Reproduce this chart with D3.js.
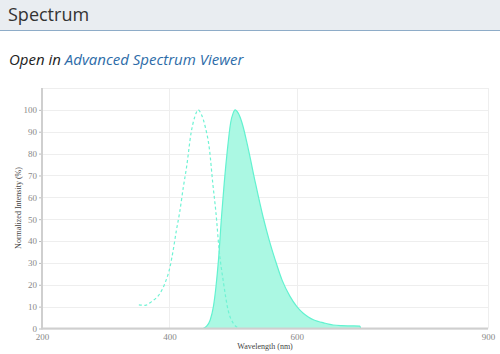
<!DOCTYPE html>
<html>
<head>
<meta charset="utf-8">
<script src="https://cdn.jsdelivr.net/npm/d3@7"></script>
<style>
  body { margin: 0; background: #fff; }
  svg { display: block; }
</style>
</head>
<body>
<div id="chart"></div>
<script>
// excitation (dashed) and emission (filled) spectra
const exWave = [352, 362, 372, 385, 393, 401, 406, 411, 416, 422, 427, 434, 440, 445, 450, 456, 463, 468, 473, 478, 485, 492, 500, 508];
const exValue = [10.8, 10.6, 12.3, 16, 20.7, 28.3, 36, 45, 53, 65, 74, 89.5, 97, 100, 98, 92.5, 81.5, 66.5, 53, 36, 20.7, 8.5, 2.5, 0.3];
const emWave = [453, 458, 464, 469, 473, 477, 482, 486, 491, 496, 500, 503, 508, 514, 524, 535, 547, 557, 566, 577, 589, 600, 610, 618, 626, 634, 642, 650, 657, 670, 685, 699, 700];
const emValue = [0, 1, 3.9, 10, 19, 31.4, 52, 66.5, 81.8, 94, 98.5, 100, 98.5, 94, 81.8, 66.5, 51, 40, 31.4, 22, 14.8, 10, 7, 5.3, 4, 3.2, 2.6, 2, 1.6, 1.3, 1.2, 1.1, 0];
const xTicks = [200, 400, 600, 900];
const yTicks = [0, 10, 20, 30, 40, 50, 60, 70, 80, 90, 100];

const W = 500, H = 354;
const svg = d3.select('#chart').append('svg')
  .attr('width', W)
  .attr('height', H);

// header bar
svg.append('rect').attr('x', 0).attr('y', 0).attr('width', W).attr('height', 30).attr('fill', '#e9edf1');
svg.append('line').attr('x1', 0).attr('x2', W).attr('y1', 30.5).attr('y2', 30.5)
  .attr('stroke', '#8eacc8').attr('stroke-width', 1);
svg.append('text').attr('x', 8).attr('y', 21)
  .attr('font-family', 'Open Sans').attr('font-size', 18).attr('fill', '#333')
  .text('Spectrum');

const link = svg.append('text').attr('x', 9).attr('y', 65)
  .attr('font-family', 'Open Sans').attr('font-style', 'italic').attr('font-size', 15);
link.append('tspan').attr('fill', '#222').text('Open in ');
link.append('tspan').attr('fill', '#2d6ca8').text('Advanced Spectrum Viewer');

// plot area
const pl = 42, pr = 488, pt = 88, pb = 328.5;
const x = d3.scaleLinear().domain([200, 900]).range([pl, pr]);
const y = d3.scaleLinear().domain([0, 110]).range([pb, pt]);

const grid = svg.append('g');
grid.selectAll('.hg').data(yTicks.concat([110])).enter().append('line')
  .attr('x1', pl).attr('x2', pr)
  .attr('y1', d => Math.round(y(d)) + 0.5).attr('y2', d => Math.round(y(d)) + 0.5)
  .attr('stroke', '#eeeeee');
grid.selectAll('.vg').data(xTicks.slice(1)).enter().append('line')
  .attr('x1', d => Math.round(x(d)) + 0.5).attr('x2', d => Math.round(x(d)) + 0.5)
  .attr('y1', pt).attr('y2', pb)
  .attr('stroke', '#eeeeee');

const ex = exWave.map((w, i) => ({ w, v: exValue[i] }));
const em = emWave.map((w, i) => ({ w, v: emValue[i] }));

svg.append('path').datum(em)
  .attr('d', d3.area().x(d => x(d.w)).y0(y(0)).y1(d => y(d.v)).curve(d3.curveMonotoneX))
  .attr('fill', '#abf8e3');
svg.append('path').datum(em)
  .attr('d', d3.line().x(d => x(d.w)).y(d => y(d.v)).curve(d3.curveMonotoneX))
  .attr('fill', 'none').attr('stroke', '#62f2d0').attr('stroke-width', 1.2);
svg.append('path').datum(ex)
  .attr('d', d3.line().x(d => x(d.w)).y(d => y(d.v)).curve(d3.curveMonotoneX))
  .attr('fill', 'none').attr('stroke', '#6ff3d4').attr('stroke-width', 1.2)
  .attr('stroke-dasharray', '3,2.5');

// axes
const yAxis = svg.append('g').attr('transform', `translate(${pl},0)`)
  .call(d3.axisLeft(y).tickValues(yTicks).tickSize(3).tickPadding(2));
const xAxis = svg.append('g').attr('transform', `translate(0,${pb})`)
  .call(d3.axisBottom(x).tickValues(xTicks).tickSize(0).tickPadding(5));
[yAxis, xAxis].forEach(a => {
  a.select('.domain').remove();
  a.selectAll('line').attr('stroke', '#bbb');
  a.selectAll('text').attr('font-family', 'Liberation Serif').attr('font-size', 9).attr('fill', '#888');
});
svg.append('line').attr('x1', pl).attr('x2', pl).attr('y1', pt).attr('y2', pb + 1)
  .attr('stroke', '#cfcfcf').attr('stroke-width', 2);
svg.append('line').attr('x1', pl).attr('x2', pr).attr('y1', pb).attr('y2', pb)
  .attr('stroke', '#cfcfcf').attr('stroke-width', 2);

svg.append('text')
  .attr('transform', 'translate(21,208) rotate(-90)')
  .attr('text-anchor', 'middle')
  .attr('font-family', 'Liberation Serif').attr('font-size', 8).attr('fill', '#444')
  .text('Normalized Intensity (%)');
svg.append('text')
  .attr('x', (pl + pr) / 2).attr('y', 349)
  .attr('text-anchor', 'middle')
  .attr('font-family', 'Liberation Serif').attr('font-size', 8).attr('fill', '#444')
  .text('Wavelength (nm)');
</script>
</body>
</html>
